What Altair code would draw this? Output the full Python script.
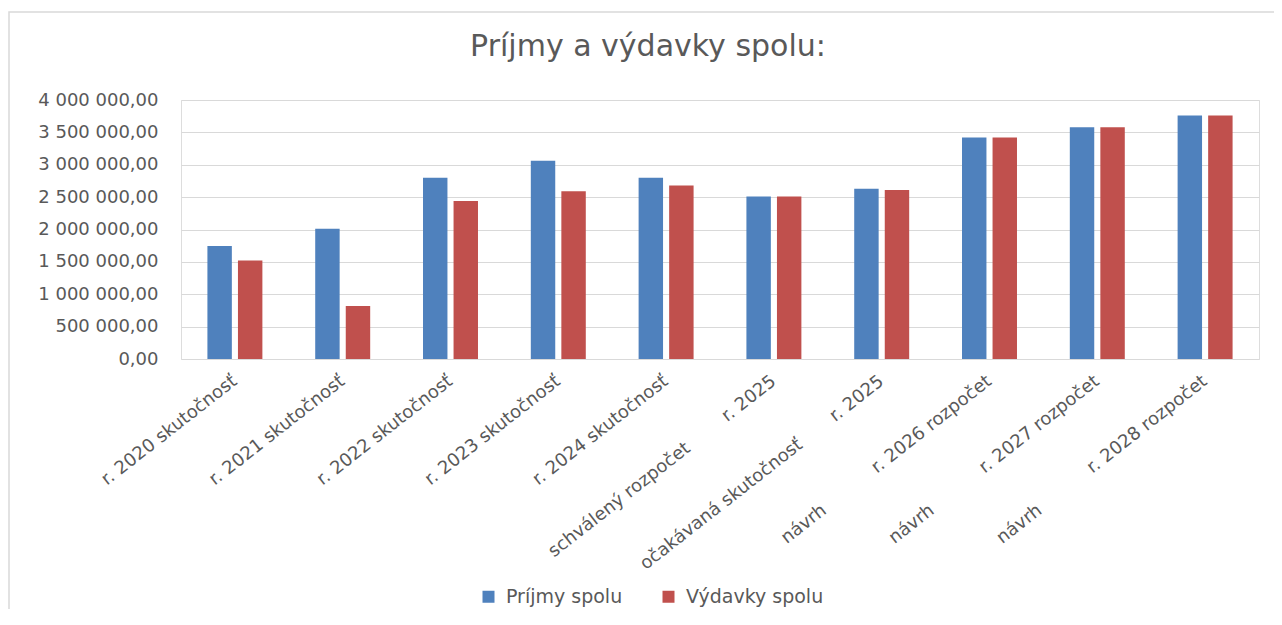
import altair as alt
import pandas as pd

# ---- data ----
line1 = ["r. 2020 skutočnosť", "r. 2021 skutočnosť", "r. 2022 skutočnosť",
         "r. 2023 skutočnosť", "r. 2024 skutočnosť", "r. 2025", "r. 2025",
         "r. 2026 rozpočet", "r. 2027 rozpočet", "r. 2028 rozpočet"]
line2 = ["", "", "", "", "", "schválený rozpočet", "očakávaná skutočnosť",
         "návrh", "návrh", "návrh"]
prijmy = [1745000, 2010000, 2800000, 3060000, 2800000,
          2510000, 2630000, 3420000, 3580000, 3760000]
vydavky = [1520000, 820000, 2440000, 2590000, 2680000,
           2510000, 2610000, 3420000, 3580000, 3760000]
series = ["Príjmy spolu", "Výdavky spolu"]
y_ticks = [0, 500000, 1000000, 1500000, 2000000, 2500000, 3000000, 3500000, 4000000]

# ---- layout / style ----
colors = ["#4F81BD", "#C0504D"]
label_gap = [0, 0, 0, 0, 0, 8, 7, 11, 11, 11]  # nbsp between label parts
TEXT = "#595959"
FONT = "DejaVu Sans"

cats = []
for a, b, g in zip(line1, line2, label_gap):
    cats.append(b + "\u00a0" * g + a if b else a)

rows = []
for i, c in enumerate(cats):
    rows.append({"kat": c, "seria": series[0], "hodnota": prijmy[i]})
    rows.append({"kat": c, "seria": series[1], "hodnota": vydavky[i]})
df = pd.DataFrame(rows)

bars = alt.Chart(df).mark_bar().encode(
    x=alt.X("kat:N", sort=cats,
            scale=alt.Scale(paddingInner=0.49, paddingOuter=0.245),
            axis=alt.Axis(title=None, labelAngle=-38, labelAlign="right",
                          labelBaseline="middle", labelPadding=20,
                          labelLimit=600, labelOverlap=False, labelBound=False,
                          ticks=False, domain=False, labelFontSize=18,
                          labelColor=TEXT, labelFont=FONT)),
    xOffset=alt.XOffset("seria:N", sort=series,
                        scale=alt.Scale(paddingInner=0.2, paddingOuter=0)),
    y=alt.Y("hodnota:Q", scale=alt.Scale(domain=[0, 4000000], nice=False),
            axis=alt.Axis(title=None, values=y_ticks,
                          labelExpr="replace(replace(format(datum.value, ',.2f'), regexp(',', 'g'), ' '), '.', ',')",
                          domain=False, ticks=False, labelPadding=23,
                          labelFontSize=18, labelFont=FONT, labelColor=TEXT,
                          gridColor="#D9D9D9", gridWidth=1)),
    color=alt.Color("seria:N", sort=series,
                    scale=alt.Scale(domain=series, range=colors),
                    legend=alt.Legend(title=None, orient="none", legendX=298,
                                      legendY=487, direction="horizontal",
                                      symbolType="square", symbolSize=144,
                                      symbolStrokeWidth=0,
                                      labelFontSize=19, labelFont=FONT,
                                      labelColor=TEXT, columnPadding=36,
                                      labelOffset=8)),
)

frame = alt.Chart(alt.Data(values=[{"f": 1}])).mark_rect(
    fill="transparent", stroke="#D9D9D9", strokeWidth=1.5
).encode(x=alt.value(-172), x2=alt.value(1097), y=alt.value(-88), y2=alt.value(540))

chart = alt.layer(frame, bars).properties(
    width=1078, height=259,
    autosize=alt.AutoSizeParams(type="none"),
    padding={"left": 173, "top": 92, "right": 15, "bottom": 250},
    title=alt.TitleParams("Príjmy a výdavky spolu:", fontSize=30, font=FONT,
                          color=TEXT, fontWeight="normal", anchor="middle",
                          dx=-72, offset=-75, baseline="alphabetic"),
).configure_view(strokeWidth=0).configure(background="white")

chart.save("out.html", embed_options={"renderer": "svg", "actions": False})
